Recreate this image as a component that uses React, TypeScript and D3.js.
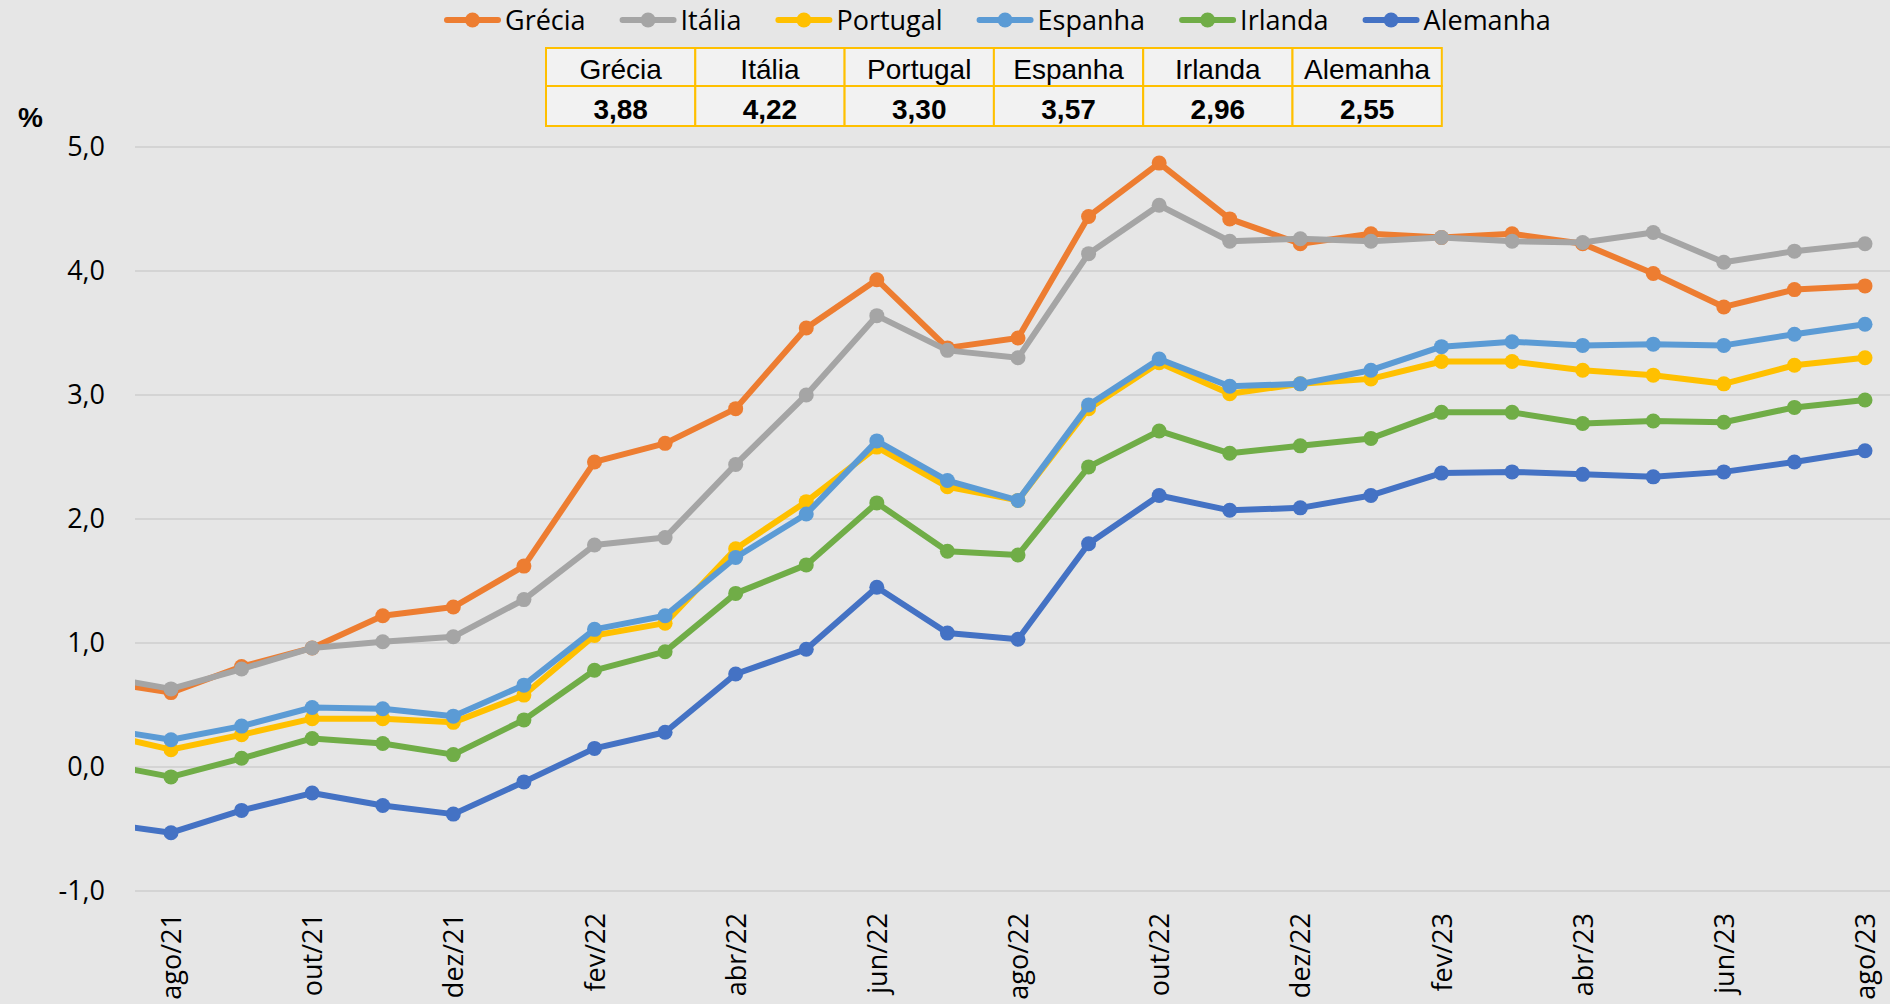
import React, { useEffect, useRef } from 'react';
import * as d3 from 'd3';

const months = ['jul/21', 'ago/21', 'set/21', 'out/21', 'nov/21', 'dez/21', 'jan/22', 'fev/22', 'mar/22', 'abr/22', 'mai/22', 'jun/22', 'jul/22',
    'ago/22', 'set/22', 'out/22', 'nov/22', 'dez/22', 'jan/23', 'fev/23', 'mar/23', 'abr/23', 'mai/23', 'jun/23', 'jul/23', 'ago/23'];

const grecia = [0.69, 0.60, 0.81, 0.96, 1.22, 1.29, 1.62, 2.46, 2.61, 2.89, 3.54, 3.93, 3.38, 3.46, 4.44, 4.87, 4.42, 4.22, 4.30, 4.27, 4.30, 4.22, 3.98, 3.71, 3.85, 3.88];
const italia = [0.73, 0.63, 0.79, 0.96, 1.01, 1.05, 1.35, 1.79, 1.85, 2.44, 3.00, 3.64, 3.36, 3.30, 4.14, 4.53, 4.24, 4.26, 4.24, 4.27, 4.24, 4.23, 4.31, 4.07, 4.16, 4.22];
const portugal = [0.27, 0.14, 0.26, 0.39, 0.39, 0.36, 0.58, 1.06, 1.16, 1.76, 2.14, 2.58, 2.26, 2.15, 2.89, 3.26, 3.01, 3.09, 3.13, 3.27, 3.27, 3.20, 3.16, 3.09, 3.24, 3.30];
const espanha = [0.31, 0.22, 0.33, 0.48, 0.47, 0.41, 0.66, 1.11, 1.22, 1.69, 2.04, 2.63, 2.31, 2.15, 2.92, 3.29, 3.07, 3.09, 3.20, 3.39, 3.43, 3.40, 3.41, 3.40, 3.49, 3.57];
const irlanda = [0.03, -0.08, 0.07, 0.23, 0.19, 0.10, 0.38, 0.78, 0.93, 1.40, 1.63, 2.13, 1.74, 1.71, 2.42, 2.71, 2.53, 2.59, 2.65, 2.86, 2.86, 2.77, 2.79, 2.78, 2.90, 2.96];
const alemanha = [-0.45, -0.53, -0.35, -0.21, -0.31, -0.38, -0.12, 0.15, 0.28, 0.75, 0.95, 1.45, 1.08, 1.03, 1.80, 2.19, 2.07, 2.09, 2.19, 2.37, 2.38, 2.36, 2.34, 2.38, 2.46, 2.55];

const seriesNames = ['Grécia', 'Itália', 'Portugal', 'Espanha', 'Irlanda', 'Alemanha'];
const seriesColors = ['#ED7D31', '#A5A5A5', '#FFC000', '#5B9BD5', '#70AD47', '#4472C4'];
const seriesValues = [grecia, italia, portugal, espanha, irlanda, alemanha];
const lastValues = ['3,88', '4,22', '3,30', '3,57', '2,96', '2,55'];
const yTicks = [-1, 0, 1, 2, 3, 4, 5];

const WIDTH = 1890, HEIGHT = 1004;
const TABLE_FONT = 'Liberation Sans, Arial, sans-serif';
const AXIS_FONT = 'Open Sans, sans-serif';

export default function App() {
    const ref = useRef<SVGSVGElement>(null);

    useEffect(() => {
        document.body.style.margin = '0';
        const svg = d3.select(ref.current);
        svg.selectAll('*').remove();

        svg.append('rect')
            .attr('width', WIDTH)
            .attr('height', HEIGHT)
            .attr('fill', '#e6e6e6');

        // plot area: left edge 135, ago/21 at 171, ago/23 at 1865 (jul/21 sits outside, clipped)
        const plotLeft = 135;
        const xScale = d3.scaleLinear().domain([1, 25]).range([171, 1865]);
        const yScale = d3.scaleLinear().domain([-1, 5]).range([891, 147]);

        svg.append('defs')
            .append('clipPath')
            .attr('id', 'plotClip')
            .append('rect')
            .attr('x', plotLeft)
            .attr('y', 0)
            .attr('width', WIDTH - plotLeft)
            .attr('height', HEIGHT);

        // gridlines
        svg.append('g')
            .selectAll('line')
            .data(yTicks)
            .enter()
            .append('line')
            .attr('x1', plotLeft)
            .attr('x2', WIDTH)
            .attr('y1', d => yScale(d))
            .attr('y2', d => yScale(d))
            .attr('stroke', '#d4d4d4')
            .attr('stroke-width', 2);

        // y axis labels
        const yLabel = d3.axisLeft(yScale)
            .tickValues(yTicks)
            .tickSize(0)
            .tickPadding(0)
            .tickFormat(d => (d as number).toFixed(1).replace('.', ','));
        const yAxis = svg.append('g')
            .attr('transform', 'translate(105,0)')
            .call(yLabel);
        yAxis.select('.domain').remove();
        yAxis.selectAll('text')
            .attr('font-family', AXIS_FONT)
            .attr('font-size', 27)
            .attr('fill', '#000');

        svg.append('text')
            .attr('x', 18)
            .attr('y', 127)
            .attr('font-family', TABLE_FONT)
            .attr('font-weight', 'bold')
            .attr('font-size', 28)
            .text('%');

        // x axis labels, every second month
        const xTicks = d3.range(1, months.length, 2);
        svg.append('g')
            .selectAll('text')
            .data(xTicks)
            .enter()
            .append('text')
            .attr('transform', d => 'translate(' + (xScale(d) + 10) + ',913) rotate(-90)')
            .attr('text-anchor', 'end')
            .attr('font-family', AXIS_FONT)
            .attr('font-size', 27)
            .attr('fill', '#000')
            .text(d => months[d]);

        // series
        const line = d3.line<number>()
            .x((d, i) => xScale(i))
            .y(d => yScale(d));
        const plot = svg.append('g').attr('clip-path', 'url(#plotClip)');
        seriesValues.forEach((values, s) => {
            plot.append('path')
                .attr('d', line(values))
                .attr('fill', 'none')
                .attr('stroke', seriesColors[s])
                .attr('stroke-width', 6)
                .attr('stroke-linejoin', 'round');
            plot.selectAll('circle.s' + s)
                .data(values)
                .enter()
                .append('circle')
                .attr('class', 's' + s)
                .attr('cx', (d, i) => xScale(i))
                .attr('cy', d => yScale(d))
                .attr('r', 7.5)
                .attr('fill', seriesColors[s]);
        });

        // legend, items placed one after another
        const legend = svg.append('g');
        let lx = 445;
        seriesNames.forEach((name, s) => {
            const g = legend.append('g').attr('transform', 'translate(' + lx + ',20)');
            g.append('line')
                .attr('x1', 2).attr('x2', 53)
                .attr('stroke', seriesColors[s])
                .attr('stroke-width', 6)
                .attr('stroke-linecap', 'round');
            g.append('circle')
                .attr('cx', 27.5)
                .attr('r', 7.5)
                .attr('fill', seriesColors[s]);
            const t = g.append('text')
                .attr('x', 60)
                .attr('y', 10)
                .attr('font-family', AXIS_FONT)
                .attr('font-size', 27)
                .text(name);
            const w = (t.node() as SVGTextElement).getComputedTextLength();
            lx += 60 + w + 35;
        });

        // table with latest values
        const tableLeft = 546, colW = 149.3, rowTop = 48;
        const rowH = [38, 40];
        const table = svg.append('g');
        seriesNames.forEach((name, s) => {
            const x = tableLeft + s * colW;
            table.append('rect')
                .attr('x', x).attr('y', rowTop)
                .attr('width', colW).attr('height', rowH[0])
                .attr('fill', '#f2f2f2')
                .attr('stroke', '#FFC000')
                .attr('stroke-width', 2);
            table.append('rect')
                .attr('x', x).attr('y', rowTop + rowH[0])
                .attr('width', colW).attr('height', rowH[1])
                .attr('fill', '#f2f2f2')
                .attr('stroke', '#FFC000')
                .attr('stroke-width', 2);
            table.append('text')
                .attr('x', x + colW / 2)
                .attr('y', 79)
                .attr('text-anchor', 'middle')
                .attr('font-family', TABLE_FONT)
                .attr('font-size', 28)
                .text(name);
            table.append('text')
                .attr('x', x + colW / 2)
                .attr('y', 119)
                .attr('text-anchor', 'middle')
                .attr('font-family', TABLE_FONT)
                .attr('font-weight', 'bold')
                .attr('font-size', 28)
                .text(lastValues[s]);
        });
    }, []);

    return (
        <svg ref={ref} width={WIDTH} height={HEIGHT} style={{display: 'block'}} />
    );
}
